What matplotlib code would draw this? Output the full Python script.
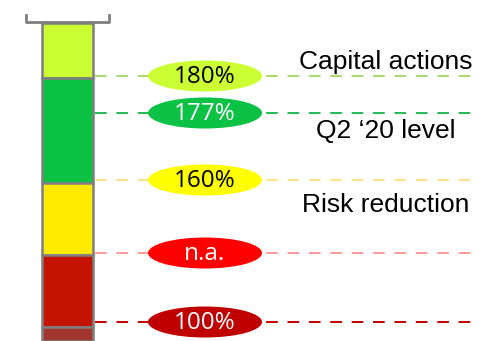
import matplotlib.pyplot as plt
from matplotlib.patches import Ellipse

# bar stack (top to bottom), heights in chart units
seg_heights = [55, 105, 72, 72, 14]
seg_colors = ['#CCFF33', '#0CC245', '#FFEB00', '#C41400', '#A0362E']

# ratio levels drawn as dashed guides with oval badges
level_y = [76, 113, 180, 253, 322]
level_labels = ['180%', '177%', '160%', 'n.a.', '100%']
badge_colors = ['#CCFF33', '#0CC245', '#FFFF00', '#FF0000', '#C00000']
badge_text = ['black', 'white', 'black', 'white', 'white']
line_colors = ['#A9D86E', '#22BB55', '#FFE08A', '#FF9A9A', '#C00000']

# step captions on the right
step_names = ['Capital actions', "Q2 \u201820 level", 'Risk reduction']
step_y = [62, 131, 205]

fig = plt.figure(figsize=(4.87, 3.41), dpi=100)
ax = fig.add_axes([0, 0, 1, 1])
ax.set_xlim(0, 487)
ax.set_ylim(341, 0)
ax.axis('off')

bar_top = 23
bar_left, bar_w = 42, 51
ax.bar(bar_left + bar_w / 2, seg_heights, width=bar_w,
       bottom=[bar_top + sum(seg_heights[:i]) for i in range(len(seg_heights))],
       color=seg_colors, edgecolor='#7F7F7F', linewidth=1.8, zorder=2)

# bracket on top of the column
ax.plot([26, 26, 109, 109], [15, 22, 22, 15], color='#7F7F7F', lw=2, zorder=3)

for y, lab, bc, tc, lc in zip(level_y, level_labels, badge_colors, badge_text, line_colors):
    ax.plot([95, 480], [y, y], color=lc, lw=1.4, dashes=(6, 5), zorder=1)
    ax.add_patch(Ellipse((205, y), 114, 31, facecolor=bc, edgecolor='none', zorder=3))
    ax.text(205, y + 1, lab, color=tc, ha='center', va='center',
            fontsize=17.5, family='Open Sans', zorder=4)

for name, y in zip(step_names, step_y):
    ax.text(386, y, name, ha='center', va='center', fontsize=19,
            family='Liberation Sans', color='black')

fig.savefig('out.png', dpi=100)
